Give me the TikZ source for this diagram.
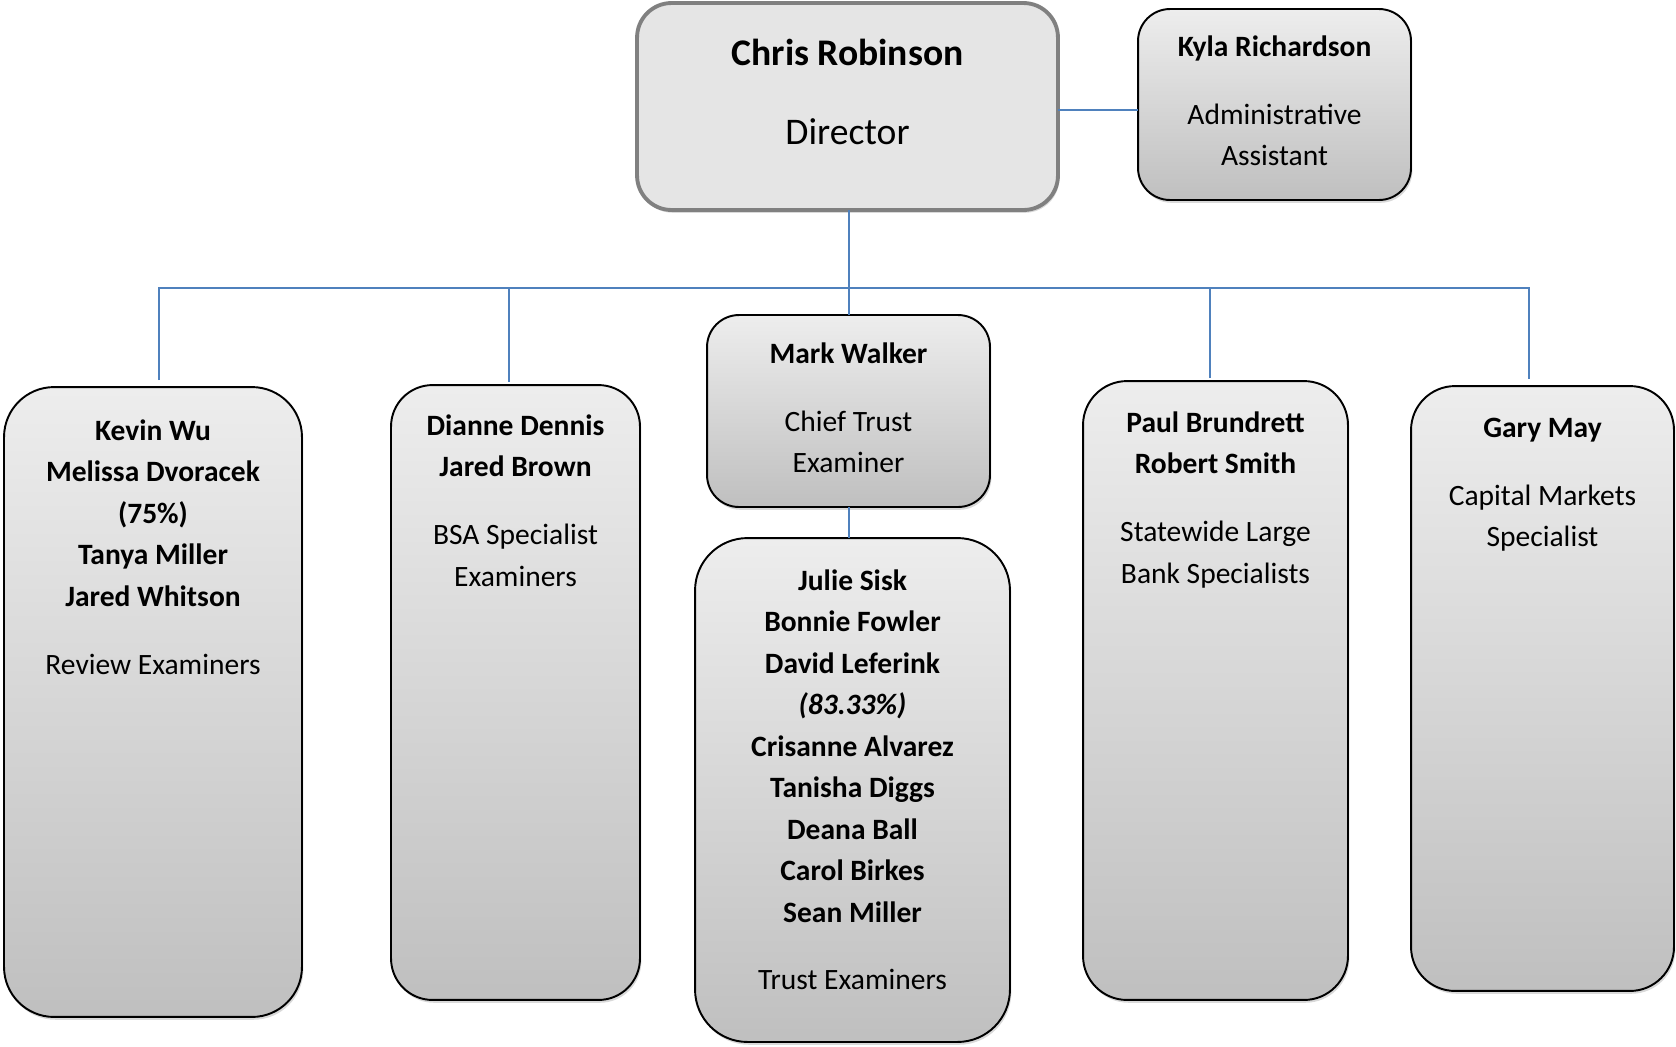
\documentclass[tikz,border=0pt]{standalone}
\usepackage{fontspec}
\setmainfont{Carlito}
\usetikzlibrary{positioning,shadows}
\definecolor{linkblue}{HTML}{4F81BD}
\tikzset{
  box/.style={draw=black, line width=1.1pt, top color=black!7, bottom color=black!25,
    inner sep=0pt, outer sep=0pt,
    drop shadow={opacity=0.3, shadow xshift=0.8pt, shadow yshift=-1.6pt}},
  chief/.style={draw=black!50, line width=2.2pt, fill=black!10, inner sep=0pt, outer sep=0pt,
    rounded corners=0.69cm,
    drop shadow={opacity=0.3, shadow xshift=0.8pt, shadow yshift=-1.6pt}},
  names/.style={inner sep=0pt, align=center, font=\fontsize{16.8}{23.6}\selectfont\bfseries},
  link/.style={draw=linkblue, line width=1.1pt},
}
\begin{document}
\begin{tikzpicture}[x=0.02cm, y=-0.02cm]
  \useasboundingbox (0,0) rectangle (1676,1046);

  % boxes
  \node (director) [chief, minimum width=8.42cm, minimum height=4.14cm] at (847.5,106.5) {};
  \node (kyla) [box, rounded corners=0.64cm, minimum width=5.46cm, minimum height=3.82cm] at (1274.5,104.5) {};
  \node (mark) [box, rounded corners=0.64cm, minimum width=5.66cm, minimum height=3.84cm] at (848.5,411) {};
  \node (julie) [box, rounded corners=1.05cm, minimum width=6.3cm, minimum height=10.08cm] at (852.5,790) {};
  \node (kevin) [box, rounded corners=1cm, minimum width=5.96cm, minimum height=12.6cm] at (153,702) {};
  \node (dianne) [box, rounded corners=0.83cm, minimum width=4.98cm, minimum height=12.3cm] at (515.5,692.5) {};
  \node (paul) [box, rounded corners=0.88cm, minimum width=5.3cm, minimum height=12.38cm] at (1215.5,690.5) {};
  \node (gary) [box, rounded corners=0.88cm, minimum width=5.26cm, minimum height=12.1cm] at (1542.5,688.5) {};

  % texts
  \node (directortext) [inner sep=0pt, align=center, font=\fontsize{21.4}{26}\selectfont,
    below=0.6cm of director.north] {\strut\textbf{Chris Robinson}\\[19pt] Director};
  \node (kylatext) [names, below=0.36cm of kyla.north]
    {\strut Kyla Richardson\\[15pt]\mdseries Administrative\\ \mdseries Assistant};
  \node (marktext) [names, below=0.38cm of mark.north]
    {\strut Mark Walker\\[15pt]\mdseries Chief Trust\\ \mdseries Examiner};
  \node (julietext) [names, below=0.46cm of julie.north]
    {\strut Julie Sisk\\ Bonnie Fowler\\ David Leferink\\ \itshape (83.33\%)\\ Crisanne Alvarez\\
     Tanisha Diggs\\ Deana Ball\\ Carol Birkes\\ Sean Miller\\[15pt]\mdseries Trust Examiners};
  \node (kevintext) [names, below=0.48cm of kevin.north]
    {\strut Kevin Wu\\ Melissa Dvoracek\\ (75\%)\\ Tanya Miller\\ Jared Whitson\\[15pt]\mdseries Review Examiners};
  \node (diannetext) [names, below=0.42cm of dianne.north]
    {\strut Dianne Dennis\\ Jared Brown\\[15pt]\mdseries BSA Specialist\\ \mdseries Examiners};
  \node (paultext) [names, below=0.44cm of paul.north]
    {\strut Paul Brundrett\\ Robert Smith\\[15pt]\mdseries Statewide Large\\ \mdseries Bank Specialists};
  \node (garytext) [names, below=0.44cm of gary.north]
    {\strut Gary May\\[15pt]\mdseries Capital Markets\\ \mdseries Specialist};

  % connectors
  \coordinate (bus) at (849,288);
  \coordinate (side) at ([yshift=-0.07cm]director.east);
  \coordinate (drop1) at ([xshift=0.12cm, yshift=0.14cm]kevin.north);
  \coordinate (drop2) at ([xshift=-0.13cm, yshift=0.06cm]dianne.north);
  \coordinate (drop4) at ([xshift=-0.11cm, yshift=0.06cm]paul.north);
  \coordinate (drop5) at ([xshift=-0.27cm, yshift=0.14cm]gary.north);

  \draw[link] (side) -- (side -| kyla.west);
  \draw[link] (director.south -| bus) -- (mark.north -| bus);
  \draw[link] (mark.south -| bus) -- (julie.north -| bus);
  \draw[link] (drop1) -- (drop1 |- bus) -- (drop5 |- bus) -- (drop5);
  \draw[link] (drop2) -- (drop2 |- bus);
  \draw[link] (drop4) -- (drop4 |- bus);
\end{tikzpicture}
\end{document}
